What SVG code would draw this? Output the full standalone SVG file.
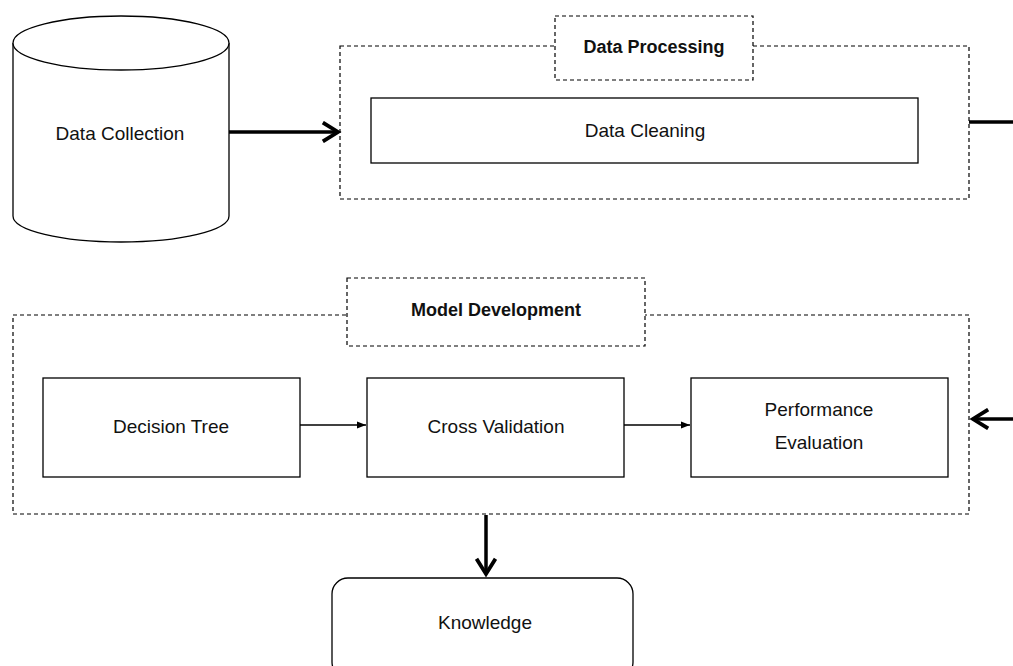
<svg xmlns="http://www.w3.org/2000/svg" width="1013" height="666" viewBox="0 0 1013 666">
<style>
.box{fill:#fff;stroke:#000;stroke-width:1.3}
.dash{fill:none;stroke:#000;stroke-width:1.2;stroke-dasharray:4,3}
.dashw{fill:#fff;stroke:#000;stroke-width:1.2;stroke-dasharray:4,3}
.t{font-family:"Liberation Sans",Arial,sans-serif;font-size:19px;fill:#111;text-anchor:middle;dominant-baseline:central}
.b{font-weight:bold;font-size:18px}
.thick{stroke:#000;stroke-width:3.5;fill:none}
.thin{stroke:#000;stroke-width:1.3;fill:none}
</style>
<defs>
<marker id="chev" viewBox="0 0 12 12" refX="10" refY="6" markerWidth="6.5" markerHeight="6.5" orient="auto" markerUnits="strokeWidth">
<path d="M2,1 L10,6 L2,11" fill="none" stroke="#000" stroke-width="2"/>
</marker>
<marker id="tri" viewBox="0 0 10 10" refX="10" refY="5" markerWidth="7" markerHeight="7" orient="auto" markerUnits="strokeWidth">
<path d="M0,1 L10,5 L0,9 Z" fill="#000"/>
</marker>
</defs>
<rect width="1013" height="666" fill="#fff"/>
<g id="data-collection">
<path class="box" d="M13,43 L13,216 A108,26 0 0 0 229,216 L229,43"/>
<ellipse class="box" cx="121" cy="43" rx="108" ry="27"/>
<text class="t" x="120" y="133">Data Collection</text>
</g>
<g id="data-processing">
<rect class="dash" x="340" y="46" width="629" height="153"/>
<rect class="dashw" x="555" y="16" width="198" height="64"/>
<text class="t b" x="654" y="47">Data Processing</text>
</g>
<g id="data-cleaning">
<rect class="box" x="371" y="98" width="547" height="65"/>
<text class="t" x="645" y="130">Data Cleaning</text>
</g>
<g id="model-development">
<rect class="dash" x="13" y="315" width="956" height="199"/>
<rect class="dashw" x="347" y="278" width="298" height="68"/>
<text class="t b" x="496" y="310">Model Development</text>
</g>
<g id="decision-tree">
<rect class="box" x="43" y="378" width="257" height="99"/>
<text class="t" x="171" y="426">Decision Tree</text>
</g>
<g id="cross-validation">
<rect class="box" x="367" y="378" width="257" height="99"/>
<text class="t" x="496" y="426">Cross Validation</text>
</g>
<g id="performance-evaluation">
<rect class="box" x="691" y="378" width="257" height="99"/>
<text class="t" x="819" y="409">Performance</text>
<text class="t" x="819" y="442">Evaluation</text>
</g>
<g id="knowledge">
<rect class="box" x="332" y="578" width="301" height="100" rx="16" ry="16"/>
<text class="t" x="485" y="622">Knowledge</text>
</g>
<g id="connectors">
<line class="thick" x1="229" y1="132" x2="338" y2="132" marker-end="url(#chev)"/>
<line class="thick" x1="969" y1="122" x2="1013" y2="122"/>
<line class="thick" x1="1013" y1="419" x2="973" y2="419" marker-end="url(#chev)"/>
<line class="thin" x1="300" y1="425" x2="366" y2="425" marker-end="url(#tri)"/>
<line class="thin" x1="624" y1="425" x2="690" y2="425" marker-end="url(#tri)"/>
<line class="thick" x1="486" y1="515" x2="486" y2="574" marker-end="url(#chev)"/>
</g>
</svg>
